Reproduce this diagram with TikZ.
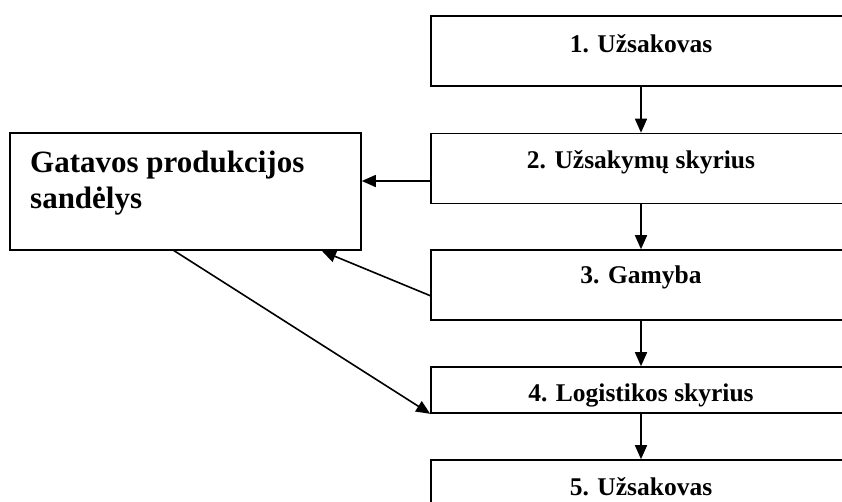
\documentclass[tikz,border=0pt]{standalone}
\usepackage{fontspec}
\setmainfont{Liberation Serif}
\usetikzlibrary{arrows.meta}
\begin{document}
\begin{tikzpicture}[x=1pt,y=-1pt,
  box/.style={draw,line width=1.6pt,rectangle,inner sep=0pt,minimum width=420pt},
  lbl/.style={anchor=base,inner sep=0pt,font=\fontsize{25.5}{30}\selectfont\bfseries},
  arr/.style={line width=1.6pt,-{Triangle[length=14pt,width=12pt]}}]
\useasboundingbox (0,0) rectangle (842,501);
\clip (0,0) rectangle (842,501);
\fill[white] (0,0) rectangle (842,501);

% process chain on the right
\node[box,minimum height=70pt] (b1) at (641,51) {};
\node[box,minimum height=70pt] (b2) at (641,168.5) {};
\node[box,minimum height=70pt] (b3) at (641,285) {};
\node[box,minimum height=46pt] (b4) at (641,390) {};
\node[box,minimum height=70pt] (b5) at (641,495) {};

\node[lbl] (t1) at (641,52) {1. Užsakovas};
\node[lbl] (t2) at (641,168) {2. Užsakymų skyrius};
\node[lbl] (t3) at (641,283) {3. Gamyba};
\node[lbl] (t4) at (641,401) {4. Logistikos skyrius};
\node[lbl] (t5) at (641,495) {5. Užsakovas};

% warehouse
\node[box,minimum width=351pt,minimum height=117pt] (lb) at (185.5,191.5) {};
\node[anchor=base west,inner sep=0pt,font=\fontsize{31}{36}\selectfont\bfseries] (lt1) at (30,172) {Gatavos produkcijos};
\node[anchor=base west,inner sep=0pt,font=\fontsize{31}{36}\selectfont\bfseries] (lt2) at (30,208) {sandėlys};

% connectors
\draw[arr] (b1.south) -- (b2.north);
\draw[arr] (b2.south) -- (b3.north);
\draw[arr] (b3.south) -- (b4.north);
\draw[arr] (b4.south) -- (b5.north);
\coordinate (s2) at (431,181);
\draw[arr] (s2) -- (lb.east |- s2);
\coordinate (s3) at (431,296);
\coordinate (e3) at (322,251);
\draw[arr] (s3) -- (e3);
\coordinate (s4) at (173,250);
\draw[arr] (s4) -- (b4.south west);
\end{tikzpicture}
\end{document}
